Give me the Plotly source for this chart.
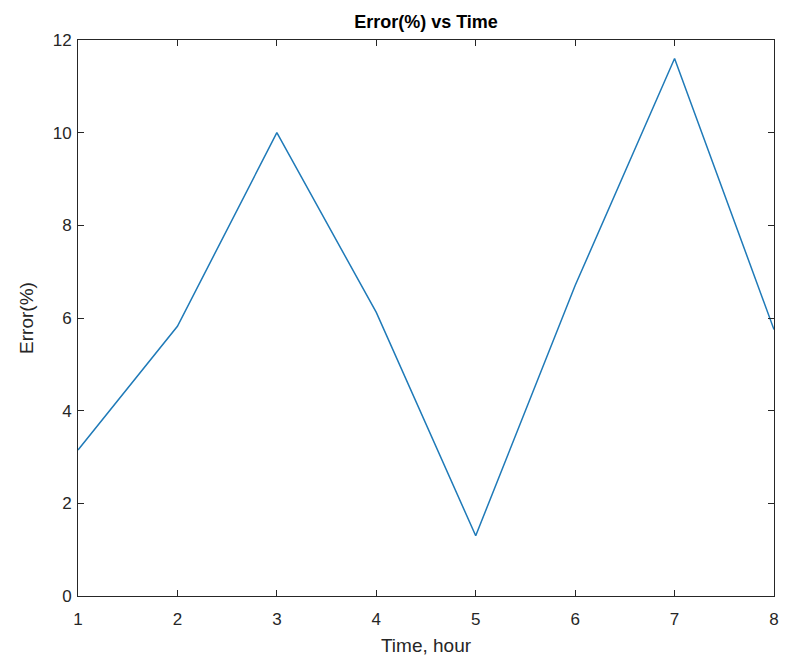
import plotly.graph_objects as go

time_hour = [1, 2, 3, 4, 5, 6, 7, 8]
error_pct = [3.15, 5.82, 10.0, 6.12, 1.3, 6.7, 11.6, 5.75]
x_ticks = [1, 2, 3, 4, 5, 6, 7, 8]
y_ticks = [0, 2, 4, 6, 8, 10, 12]

FONT = "Liberation Sans, Arial"

axis_common = dict(showline=True, linecolor="#262626", linewidth=1,
                   mirror="allticks", ticks="inside", ticklen=6,
                   tickcolor="#262626", showgrid=False, zeroline=False,
                   tickfont=dict(family=FONT, size=17, color="#262626"))

fig = go.Figure()
fig.add_trace(go.Scatter(x=time_hour, y=error_pct, mode="lines",
                         line=dict(color="#1f7ab8", width=1.5),
                         showlegend=False))

fig.update_layout(
    width=786, height=666,
    margin=dict(l=78, r=7, t=40, b=70),
    paper_bgcolor="white", plot_bgcolor="white",
    title=dict(text="<b>Error(%) vs Time</b>", x=0.5, xref="paper",
               y=1, yref="paper", yanchor="bottom", pad=dict(b=12),
               font=dict(family=FONT, size=18, color="#000000")),
    xaxis=dict(range=[1, 8], tickvals=x_ticks, ticklabelstandoff=8,
               title=dict(text="Time, hour", standoff=10,
                          font=dict(family=FONT, size=19, color="#262626")),
               **axis_common),
    yaxis=dict(range=[0, 12], tickvals=y_ticks, ticklabelstandoff=2,
               title=dict(text="Error(%)", standoff=14,
                          font=dict(family=FONT, size=19, color="#262626")),
               **axis_common),
)

fig.write_html("out.html")
